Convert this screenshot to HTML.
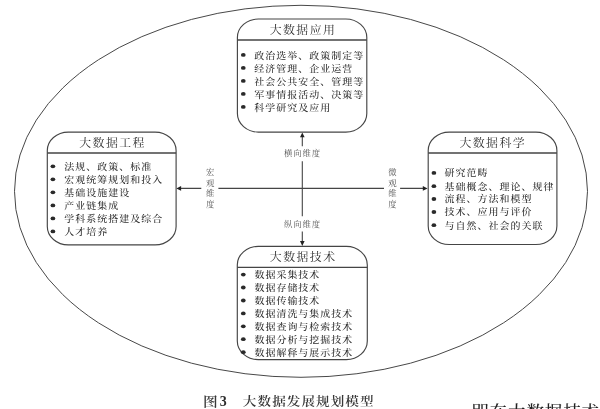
<!DOCTYPE html>
<html lang="zh-CN"><head><meta charset="utf-8"><title>图3 大数据发展规划模型</title>
<style>
html,body{margin:0;padding:0;background:#fff;}
body{width:600px;height:409px;overflow:hidden;position:relative;}
svg{position:absolute;left:0;top:0;display:block;filter:blur(0.4px);}
text{font-family:"Liberation Serif","Noto Serif CJK SC",serif;}
.t{font-size:9.5px;letter-spacing:0.976px;fill:#2e2e2e;font-weight:500;}
.h{font-size:11.0px;letter-spacing:1.36px;fill:#2e2e2e;}
.l{font-size:8.4px;letter-spacing:0.9px;fill:#555;}
.ln{fill:none;stroke:#454545;stroke-width:1.15;}
.ar{fill:#222;stroke:none;}
.b{fill:#2a2a2a;}
</style></head><body>
<svg width="600" height="409" viewBox="0 0 600 409">
<rect width="600" height="409" fill="#fff"/>
<ellipse class="ln" cx="301" cy="191.3" rx="286.5" ry="186" style="stroke-width:1;stroke:#484848"/>
<g class="ln" style="stroke-width:1.1">
<path d="M179 188.4H201.3M218.4 188.4H384M400.1 188.4H425"/>
<path d="M302.3 135V146.2M302.3 161.2V216.2M302.3 231.4V243"/>
</g>
<path class="ar" d="M176.3 188.4l4.8 -2.3v4.6z"/>
<path class="ar" d="M427.6 188.4l-4.8 -2.3v4.6z"/>
<path class="ar" d="M302.3 132.5l-2.3 4.8h4.6z"/>
<path class="ar" d="M302.3 245.9l-2.3 -4.8h4.6z"/>
<text class="l" x="283.9" y="156.3">横向维度</text>
<text class="l" x="283.9" y="227.3">纵向维度</text>
<text class="l" x="210.2 210.2 210.2 210.2" y="174.6 185.5 196.3 207.2" text-anchor="middle" style="letter-spacing:0">宏观维度</text>
<text class="l" x="392.4 392.4 392.4 392.4" y="174.6 185.5 196.3 207.2" text-anchor="middle" style="letter-spacing:0">微观维度</text>
<rect class="ln" x="237.4" y="19.0" width="129.4" height="113.1" rx="21" ry="18.5"/>
<path class="ln" style="stroke-width:1.35" d="M237.4 40.0H366.8"/>
<text class="h" transform="translate(269.66,33.60) scale(1.08,1)">大数据应用</text>
<ellipse class="b" cx="243.3" cy="54.9" rx="2.35" ry="1.9"/>
<text class="t" transform="translate(254.30,58.70) scale(1.05,1)">政治选举、政策制定等</text>
<ellipse class="b" cx="243.3" cy="67.9" rx="2.35" ry="1.9"/>
<text class="t" transform="translate(254.30,71.70) scale(1.05,1)">经济管理、企业运营</text>
<ellipse class="b" cx="243.3" cy="80.9" rx="2.35" ry="1.9"/>
<text class="t" transform="translate(254.30,84.70) scale(1.05,1)">社会公共安全、管理等</text>
<ellipse class="b" cx="243.3" cy="93.9" rx="2.35" ry="1.9"/>
<text class="t" transform="translate(254.30,97.70) scale(1.05,1)">军事情报活动、决策等</text>
<ellipse class="b" cx="243.3" cy="106.9" rx="2.35" ry="1.9"/>
<text class="t" transform="translate(254.30,110.70) scale(1.05,1)">科学研究及应用</text>
<rect class="ln" x="47.3" y="132.1" width="128.8" height="112.8" rx="21" ry="18.5"/>
<path class="ln" style="stroke-width:1.35" d="M47.3 152.95H176.1"/>
<text class="h" transform="translate(79.26,146.55) scale(1.08,1)">大数据工程</text>
<ellipse class="b" cx="52.9" cy="166.3" rx="2.35" ry="1.9"/>
<text class="t" transform="translate(64.30,170.10) scale(1.05,1)">法规、政策、标准</text>
<ellipse class="b" cx="52.9" cy="179.3" rx="2.35" ry="1.9"/>
<text class="t" transform="translate(64.30,183.12) scale(1.05,1)">宏观统筹规划和投入</text>
<ellipse class="b" cx="52.9" cy="192.3" rx="2.35" ry="1.9"/>
<text class="t" transform="translate(64.30,196.14) scale(1.05,1)">基础设施建设</text>
<ellipse class="b" cx="52.9" cy="205.4" rx="2.35" ry="1.9"/>
<text class="t" transform="translate(64.30,209.16) scale(1.05,1)">产业链集成</text>
<ellipse class="b" cx="52.9" cy="218.4" rx="2.35" ry="1.9"/>
<text class="t" transform="translate(64.30,222.18) scale(1.05,1)">学科系统搭建及综合</text>
<ellipse class="b" cx="52.9" cy="231.4" rx="2.35" ry="1.9"/>
<text class="t" transform="translate(64.30,235.20) scale(1.05,1)">人才培养</text>
<rect class="ln" x="428.2" y="132.1" width="128.7" height="112.4" rx="21" ry="18.5"/>
<path class="ln" style="stroke-width:1.35" d="M428.2 153.0H556.9"/>
<text class="h" transform="translate(459.41,146.60) scale(1.08,1)">大数据科学</text>
<ellipse class="b" cx="433.9" cy="172.9" rx="2.35" ry="1.9"/>
<text class="t" transform="translate(444.60,176.30) scale(1.05,1)">研究范畴</text>
<ellipse class="b" cx="433.9" cy="186.2" rx="2.35" ry="1.9"/>
<text class="t" transform="translate(444.60,189.60) scale(1.05,1)">基础概念、理论、规律</text>
<ellipse class="b" cx="433.9" cy="199.0" rx="2.35" ry="1.9"/>
<text class="t" transform="translate(444.60,202.40) scale(1.05,1)">流程、方法和模型</text>
<ellipse class="b" cx="433.9" cy="212.0" rx="2.35" ry="1.9"/>
<text class="t" transform="translate(444.60,215.40) scale(1.05,1)">技术、应用与评价</text>
<ellipse class="b" cx="433.9" cy="225.2" rx="2.35" ry="1.9"/>
<text class="t" transform="translate(444.60,228.60) scale(1.05,1)">与自然、社会的关联</text>
<rect class="ln" x="237.3" y="246.4" width="130.0" height="113.2" rx="21" ry="18.5"/>
<path class="ln" style="stroke-width:1.35" d="M237.3 267.4H367.3"/>
<text class="h" transform="translate(269.86,261.00) scale(1.08,1)">大数据技术</text>
<ellipse class="b" cx="243.3" cy="274.6" rx="2.35" ry="1.9"/>
<text class="t" transform="translate(254.40,278.40) scale(1.05,1)">数据采集技术</text>
<ellipse class="b" cx="243.3" cy="287.5" rx="2.35" ry="1.9"/>
<text class="t" transform="translate(254.40,291.33) scale(1.05,1)">数据存储技术</text>
<ellipse class="b" cx="243.3" cy="300.5" rx="2.35" ry="1.9"/>
<text class="t" transform="translate(254.40,304.26) scale(1.05,1)">数据传输技术</text>
<ellipse class="b" cx="243.3" cy="313.4" rx="2.35" ry="1.9"/>
<text class="t" transform="translate(254.40,317.19) scale(1.05,1)">数据清洗与集成技术</text>
<ellipse class="b" cx="243.3" cy="326.3" rx="2.35" ry="1.9"/>
<text class="t" transform="translate(254.40,330.12) scale(1.05,1)">数据查询与检索技术</text>
<ellipse class="b" cx="243.3" cy="339.2" rx="2.35" ry="1.9"/>
<text class="t" transform="translate(254.40,343.05) scale(1.05,1)">数据分析与挖掘技术</text>
<ellipse class="b" cx="243.3" cy="352.2" rx="2.35" ry="1.9"/>
<text class="t" transform="translate(254.40,355.98) scale(1.05,1)">数据解释与展示技术</text>
<text transform="translate(202.9,405.6) scale(1.17,1)" style="font-size:12.6px;font-weight:600;fill:#383838">图</text>
<text x="219.8" y="405.9" style="font-size:14px;font-weight:700;fill:#2a2a2a">3</text>
<text transform="translate(242.85,406.2) scale(1.105,1)" style="font-size:12.3px;font-weight:600;fill:#383838;letter-spacing:0.96px">大数据发展规划模型</text>
<text x="471.2" y="418" style="font-size:17.5px;fill:#222;letter-spacing:0.9px;font-weight:500">即在大数据技术</text>
</svg>
</body></html>
